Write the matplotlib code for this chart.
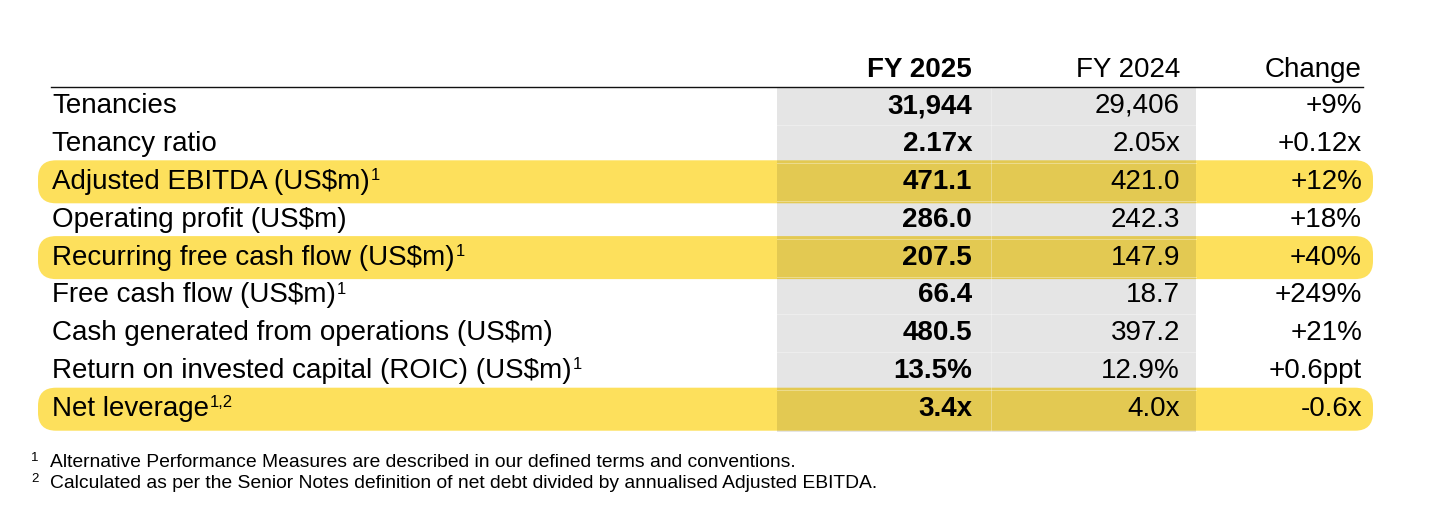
import matplotlib.pyplot as plt
from matplotlib.patches import FancyBboxPatch, Rectangle

plt.rcParams['font.family'] = ['Liberation Sans', 'DejaVu Sans']
plt.rcParams['text.parse_math'] = False

# table content
headers = ["FY 2025", "FY 2024", "Change"]
labels = ["Tenancies", "Tenancy ratio", "Adjusted EBITDA (US$m)",
          "Operating profit (US$m)", "Recurring free cash flow (US$m)",
          "Free cash flow (US$m)", "Cash generated from operations (US$m)",
          "Return on invested capital (ROIC) (US$m)", "Net leverage"]
notes = ["", "", "1", "", "1", "1", "", "1", "1,2"]
fy2025 = ["31,944", "2.17x", "471.1", "286.0", "207.5", "66.4", "480.5", "13.5%", "3.4x"]
fy2024 = ["29,406", "2.05x", "421.0", "242.3", "147.9", "18.7", "397.2", "12.9%", "4.0x"]
change = ["+9%", "+0.12x", "+12%", "+18%", "+40%", "+249%", "+21%", "+0.6ppt", "-0.6x"]
highlight = [False, False, True, False, True, False, False, False, True]
footnotes = [("1", "Alternative Performance Measures are described in our defined terms and conventions."),
             ("2", "Calculated as per the Senior Notes definition of net debt divided by annualised Adjusted EBITDA.")]

W, H = 1440, 512
fig = plt.figure(figsize=(W / 100, H / 100), dpi=100)
ax = fig.add_axes([0, 0, 1, 1])
ax.set_xlim(0, W)
ax.set_ylim(H, 0)
ax.axis('off')

fs = 20
yellow = '#FDE05C'
base0 = 113
pitch = 37.9
col_x = [972, 1180, 1362]
lab_x = 52

# highlighted rows
for i, hl in enumerate(highlight):
    if hl:
        yc = base0 + i * pitch - 7
        ax.add_patch(FancyBboxPatch((38, yc - 21.5), 1335, 43,
                                    boxstyle="round,pad=0,rounding_size=18",
                                    fc=yellow, ec='none', zorder=1))

# grey band behind the figures
top, bot = 87, 432
ax.add_patch(Rectangle((777, top), 1196 - 777, bot - top, fc='black', alpha=0.1,
                       ec='none', zorder=2))
for i in range(1, len(labels)):
    yb = base0 + i * pitch - 7 - pitch / 2
    ax.plot([777, 1196], [yb, yb], color='white', lw=0.7, alpha=0.35, zorder=3)
ax.plot([991, 991], [top, bot], color='white', lw=0.7, alpha=0.3, zorder=3)

# header and rule
ax.plot([51, 1363], [86.5, 86.5], color='#111111', lw=1.0, zorder=4)
for j, h in enumerate(headers):
    ax.text(col_x[j], 77, h, fontsize=fs, ha='right', va='baseline',
            fontweight='bold' if j == 0 else 'normal', zorder=5)

fig.canvas.draw()
r = fig.canvas.get_renderer()
inv = ax.transData.inverted()

for i in range(len(labels)):
    yb = base0 + i * pitch
    t = ax.text(lab_x, yb, labels[i], fontsize=fs, ha='left', va='baseline', zorder=5)
    if notes[i]:
        bb = t.get_window_extent(renderer=r)
        x_end = inv.transform((bb.x1, bb.y0))[0]
        ax.text(x_end + 1, yb - 9, notes[i], fontsize=fs * 0.6, ha='left',
                va='baseline', zorder=5)
    ax.text(col_x[0], yb, fy2025[i], fontsize=fs, fontweight='bold', ha='right',
            va='baseline', zorder=5)
    ax.text(col_x[1], yb, fy2024[i], fontsize=fs, ha='right', va='baseline', zorder=5)
    ax.text(col_x[2], yb, change[i], fontsize=fs, ha='right', va='baseline', zorder=5)

# footnotes
for k, (num, txt) in enumerate(footnotes):
    yb = 467 + k * 20.5
    ax.text(31, yb - 6, num, fontsize=9.5, ha='left', va='baseline')
    ax.text(50, yb, txt, fontsize=13.9, ha='left', va='baseline')

fig.savefig('out.png', dpi=100)
